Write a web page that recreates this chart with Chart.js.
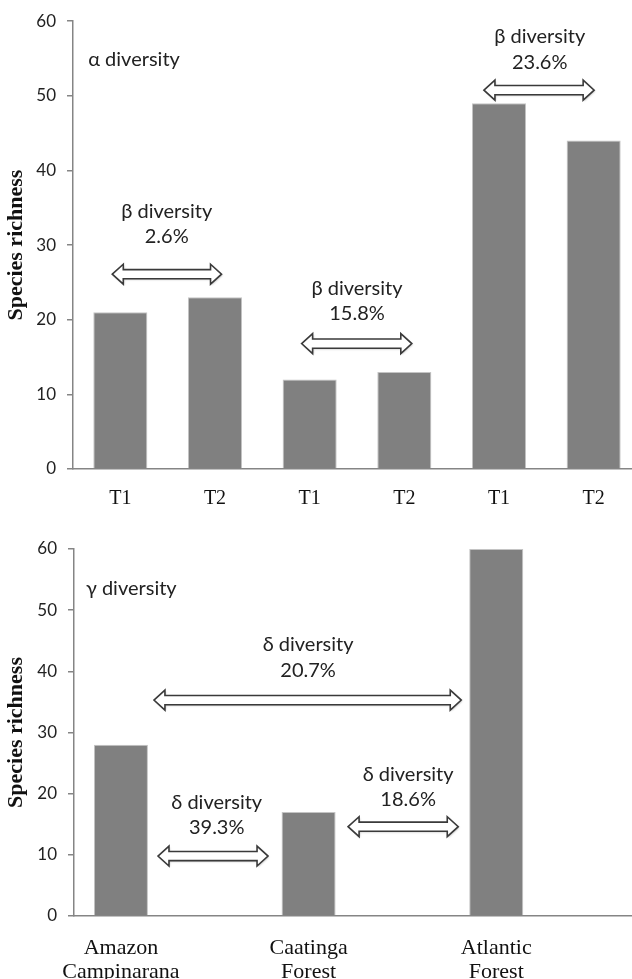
<!DOCTYPE html>
<html><head><meta charset="utf-8">
<script src="https://cdn.jsdelivr.net/npm/chart.js@4/dist/chart.umd.min.js"></script>
<style>
html,body{margin:0;padding:0;background:#fff;overflow:hidden;width:632px;height:979px;position:relative;}
#c1{position:absolute;left:0;top:0;}
#c2{position:absolute;left:0;top:525px;}
</style></head><body>
<canvas id="c1" width="641" height="520"></canvas>
<canvas id="c2" width="637" height="480"></canvas>
<script>
// ---- data ----
const alphaLabels = ['T1','T2','T1','T2','T1','T2'];
const alphaValues = [21,23,12,13,49,44];
const gammaLabels = [['Amazon','Campinarana'],'',['Caatinga','Forest'],'',['Atlantic','Forest'],''];
const gammaValues = [28,null,17,null,60,null];
const yMin = 0, yMax = 60, yStep = 10;
const axisTitle = 'Species richness';

// annotations (x in category index units, y in species-richness units)
const alphaTitle = 'α diversity';
const alphaTitlePos = [-0.34, 54.8];
const betaTexts = [['β diversity','2.6%'],['β diversity','15.8%'],['β diversity','23.6%']];
const betaTextX = [0.49, 2.5, 4.43];
const betaTextY = [[34.5,31.2],[24.2,20.8],[57.96,54.5]];
const betaArrowX = [[-0.085,1.069],[1.915,3.079],[3.841,5.005]];
const betaArrowY = [26.1,16.8,50.76];

const gammaTitle = 'γ diversity';
const gammaTitlePos = [-0.373, 53.5];
const deltaTexts = [['δ diversity','20.7%'],['δ diversity','39.3%'],['δ diversity','18.6%']];
const deltaTextX = [1.995, 1.021, 3.061];
const deltaTextY = [[44.3,40.2],[18.5,14.4],[23.05,19.0]];
const deltaArrowX = [[0.352,3.627],[0.395,1.568],[2.421,3.595]];
const deltaArrowY = [35.3, 9.8, 14.6];

// ---- styles ----
const BAR = '#808080', BAR_EDGE = '#c4c4c4', AXIS = '#858585', TXT = '#222';
const SANS = 'Lato';

function drawArrow(ctx, x1, x2, yc) {
  const hl = 11, hh = 10, sh = 4.6;
  ctx.save();
  ctx.beginPath();
  ctx.moveTo(x1, yc);
  ctx.lineTo(x1 + hl, yc - hh);
  ctx.lineTo(x1 + hl, yc - sh);
  ctx.lineTo(x2 - hl, yc - sh);
  ctx.lineTo(x2 - hl, yc - hh);
  ctx.lineTo(x2, yc);
  ctx.lineTo(x2 - hl, yc + hh);
  ctx.lineTo(x2 - hl, yc + sh);
  ctx.lineTo(x1 + hl, yc + sh);
  ctx.lineTo(x1 + hl, yc + hh);
  ctx.closePath();
  ctx.shadowColor = 'rgba(0,0,0,0.25)';
  ctx.shadowBlur = 2; ctx.shadowOffsetX = 1; ctx.shadowOffsetY = 1;
  ctx.fillStyle = '#fff';
  ctx.fill();
  ctx.shadowColor = 'transparent';
  ctx.lineWidth = 1.6;
  ctx.strokeStyle = '#3a3a3a';
  ctx.lineJoin = 'miter';
  ctx.stroke();
  ctx.restore();
}

const notesPlugin = {
  id: 'notes',
  afterDraw(chart, args, o) {
    const ctx = chart.ctx, xs = chart.scales.x, ys = chart.scales.y;
    ctx.save();
    ctx.fillStyle = TXT;
    ctx.font = '20px ' + SANS;
    ctx.textBaseline = 'middle';
    ctx.textAlign = 'left';
    ctx.fillText(o.title, xs.getPixelForValue(o.titlePos[0]), ys.getPixelForValue(o.titlePos[1]));
    ctx.textAlign = 'center';
    o.texts.forEach((lines, i) => {
      const x = xs.getPixelForValue(o.textX[i]);
      lines.forEach((t, j) => ctx.fillText(t, x, ys.getPixelForValue(o.textY[i][j])));
    });
    ctx.restore();
    o.arrowX.forEach((ax, i) => {
      drawArrow(ctx, xs.getPixelForValue(ax[0]), xs.getPixelForValue(ax[1]), ys.getPixelForValue(o.arrowY[i]));
    });
  }
};

function makeChart(id, labels, values, opts) {
  return new Chart(document.getElementById(id), {
    type: 'bar',
    data: { labels, datasets: [{ data: values, backgroundColor: BAR, borderColor: BAR_EDGE, borderWidth: 1,
      barPercentage: opts.barPct, categoryPercentage: 1 }] },
    options: {
      responsive: false, animation: false,
      layout: { padding: { top: opts.padTop, left: 0, right: 0, bottom: 0 } },
      plugins: { legend: { display: false }, tooltip: { enabled: false }, notes: opts.notes },
      scales: {
        x: {
          grid: { display: false },
          border: { display: true, color: AXIS, width: 1.5 },
          ticks: { color: '#111', font: { family: 'Liberation Serif', size: opts.xFont, lineHeight: opts.xLine }, padding: opts.xPad, maxRotation: 0, autoSkip: false },
          afterFit: s => { s.height = opts.xHeight; }
        },
        y: {
          min: yMin, max: yMax,
          ticks: { stepSize: yStep, color: TXT, font: { family: SANS, size: 17 }, padding: 11 },
          grid: { drawOnChartArea: false, drawTicks: true, tickLength: 6, color: AXIS, lineWidth: 1.5 },
          border: { display: true, color: AXIS, width: 1.5 },
          title: { display: true, text: axisTitle, color: '#111', font: { family: 'Liberation Serif', size: 22, weight: 'bold' }, padding: { top: 3, bottom: 0 } },
          afterFit: s => { s.width = opts.yWidth; }
        }
      }
    },
    plugins: [notesPlugin]
  });
}

makeChart('c1', alphaLabels, alphaValues, {
  barPct: 0.571, padTop: 18, xHeight: 51, yWidth: 73, xFont: 20, xLine: 1.2, xPad: 10,
  notes: { title: alphaTitle, titlePos: alphaTitlePos, texts: betaTexts, textX: betaTextX, textY: betaTextY, arrowX: betaArrowX, arrowY: betaArrowY }
});
makeChart('c2', gammaLabels, gammaValues, {
  barPct: 0.576, padTop: 24, xHeight: 89, yWidth: 74, xFont: 22, xLine: 1.1, xPad: 12,
  notes: { title: gammaTitle, titlePos: gammaTitlePos, texts: deltaTexts, textX: deltaTextX, textY: deltaTextY, arrowX: deltaArrowX, arrowY: deltaArrowY }
});
</script>
</body></html>
